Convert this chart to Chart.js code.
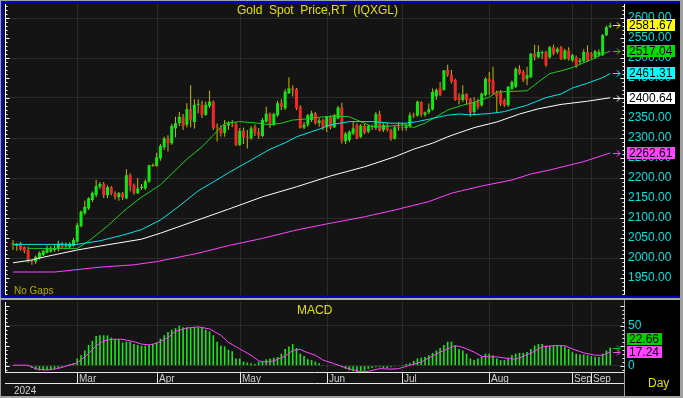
<!DOCTYPE html>
<html lang="pt-BR">
<head>
<meta charset="utf-8">
<title>Gold Spot Price</title>
<script src="https://cdn.jsdelivr.net/npm/chart.js@4.4.1/dist/chart.umd.min.js"></script>
<style>
  html, body { margin: 0; padding: 0; background: #000; }
  #painel { position: relative; width: 683px; height: 398px; overflow: hidden; background: #000; font-family: 'Liberation Sans', Arial, sans-serif; }
  canvas { position: absolute; left: 0; }
  #graficoPreco { top: 0; }
  #graficoMacd { top: 300px; }
  .linha { position: absolute; }
  .texto { position: absolute; white-space: pre; line-height: 1; }
  .etiqueta { position: absolute; left: 627px; height: 12px; line-height: 12px; font-size: 12px; padding: 0 3px 0 2px; color: #000; white-space: pre; }
</style>
</head>
<body>
<div id="painel">
  <canvas id="graficoPreco" width="683" height="296"></canvas>
  <canvas id="graficoMacd" width="683" height="98"></canvas>

  <!-- Molduras da janela -->
  <div class="linha" style="left:0;top:0;width:683px;height:1px;background:#a0a0a0"></div>
  <div class="linha" style="left:0;top:0;width:1px;height:398px;background:#a0a0a0"></div>
  <div class="linha" style="left:1px;top:1px;width:682px;height:2px;background:#0000c8"></div>
  <div class="linha" style="left:1px;top:1px;width:2px;height:297px;background:#0000c8"></div>
  <div class="linha" style="left:1px;top:296px;width:682px;height:2px;background:#0000c8"></div>
  <div class="linha" style="left:0;top:298px;width:683px;height:2px;background:#a8a8a8"></div>
  <div class="linha" style="left:0;top:396px;width:683px;height:2px;background:#a0a0a0"></div>
  <div class="linha" style="left:680px;top:0;width:3px;height:398px;background:#a0a0a0"></div>

  <div class="texto" style="left:237px;top:4px;font-size:12px;color:#e0e000">Gold  Spot  Price,RT  (IQXGL)</div>
  <div class="texto" style="left:14px;top:286px;font-size:10px;color:#b4ac00">No Gaps</div>
  <div class="texto" style="left:297px;top:304px;font-size:12px;color:#e0e000">MACD</div>
  <div class="texto" style="left:648px;top:377px;font-size:12px;color:#e0e000">Day</div>
  <div class="texto" style="left:14px;top:386px;font-size:10px;color:#d0d0d0">2024</div>
</div>

<script>
// ===== Dados (um candle por pregão, índice 0 = início de fev/2024) =====
const abertura = [
  2037,2030,2037,2028,2020,1993,1991,2000,2007,2013,
  2016,2020,2022,2037,2029,2027,2030,2041,2080,2112,
  2124,2145,2157,2178,2185,2157,2177,2162,2152,2162,
  2149,2207,2182,2162,2175,2174,2191,2230,2230,2249,
  2277,2299,2287,2324,2337,2353,2333,2372,2340,2383,
  2383,2358,2380,2391,2327,2324,2313,2331,2336,2335,
  2283,2318,2302,2300,2328,2315,2305,2341,2361,2333,
  2357,2387,2374,2412,2424,2422,2378,2326,2333,2345,
  2362,2337,2345,2327,2352,2327,2349,2376,2292,2295,
  2311,2332,2303,2330,2316,2328,2325,2360,2320,2333,
  2320,2298,2327,2326,2325,2330,2357,2356,2390,2358,
  2364,2371,2404,2424,2420,2470,2458,2445,2403,2395,
  2410,2398,2365,2394,2382,2407,2448,2444,2412,2415,
  2394,2382,2423,2428,2473,2465,2448,2452,2511,2502,
  2512,2515,2502,2527,2515,2527,2498,2519,2494,2502,
  2490,2492,2515,2511,2502,2507,2507,2557,2577
];
const maxima = [
  2045,2037,2040,2029,2028,1995,2006,2016,2020,2031,
  2030,2033,2043,2040,2039,2040,2050,2088,2119,2143,
  2152,2166,2195,2190,2190,2182,2180,2167,2165,2165,
  2222,2212,2186,2200,2185,2196,2233,2236,2263,2285,
  2303,2307,2335,2353,2365,2360,2387,2432,2397,2397,
  2393,2391,2418,2394,2336,2331,2345,2342,2345,2340,
  2325,2326,2320,2330,2334,2325,2350,2378,2364,2363,
  2393,2397,2422,2452,2432,2425,2382,2340,2360,2368,
  2365,2350,2348,2355,2356,2360,2380,2388,2315,2318,
  2341,2337,2335,2335,2333,2334,2365,2368,2337,2338,
  2323,2332,2340,2338,2335,2364,2363,2393,2392,2366,
  2386,2424,2424,2440,2470,2483,2470,2448,2412,2432,
  2412,2400,2402,2398,2414,2452,2465,2478,2419,2420,
  2398,2430,2444,2476,2482,2470,2478,2512,2533,2532,
  2519,2518,2530,2533,2527,2530,2523,2527,2510,2506,
  2500,2522,2532,2515,2520,2521,2560,2581,2588
];
const minima = [
  2020,2018,2018,2012,1988,1983,1985,1996,2005,2011,
  2014,2015,2017,2025,2023,2024,2028,2037,2076,2108,
  2120,2140,2152,2172,2150,2150,2157,2146,2143,2145,
  2147,2166,2158,2160,2170,2170,2188,2228,2228,2243,
  2270,2266,2283,2302,2330,2320,2326,2326,2324,2362,
  2350,2355,2375,2320,2291,2304,2303,2320,2327,2280,
  2280,2285,2274,2295,2305,2298,2302,2338,2325,2330,
  2353,2370,2370,2410,2404,2370,2324,2322,2328,2340,
  2334,2328,2320,2315,2322,2325,2346,2286,2285,2290,
  2307,2297,2300,2310,2312,2320,2320,2316,2315,2316,
  2293,2296,2318,2319,2318,2325,2350,2353,2353,2353,
  2360,2369,2395,2405,2418,2453,2436,2393,2384,2390,
  2385,2353,2357,2372,2378,2404,2407,2408,2365,2380,
  2378,2378,2420,2425,2458,2440,2432,2450,2494,2500,
  2498,2478,2498,2507,2510,2495,2495,2494,2490,2475,
  2484,2488,2490,2498,2498,2503,2505,2555,2575
];
const fechamento = [
  2032,2035,2022,2018,1991,1991,2003,2013,2018,2024,
  2022,2024,2036,2028,2032,2035,2045,2082,2116,2128,
  2149,2163,2180,2185,2157,2177,2162,2153,2162,2152,
  2207,2180,2163,2174,2178,2192,2232,2232,2252,2280,
  2299,2287,2330,2337,2353,2330,2372,2344,2383,2384,
  2358,2383,2391,2325,2324,2312,2332,2337,2334,2283,
  2318,2302,2300,2324,2312,2306,2345,2361,2333,2360,
  2387,2378,2416,2424,2420,2374,2325,2333,2357,2362,
  2337,2344,2327,2353,2326,2357,2376,2293,2311,2316,
  2324,2299,2331,2313,2330,2328,2360,2318,2333,2320,
  2298,2327,2326,2325,2330,2357,2356,2391,2359,2364,
  2372,2415,2420,2408,2469,2458,2441,2395,2395,2409,
  2395,2363,2390,2378,2411,2448,2440,2411,2404,2386,
  2382,2428,2440,2473,2461,2444,2457,2511,2502,2515,
  2514,2482,2527,2511,2523,2498,2519,2498,2507,2482,
  2494,2515,2494,2503,2517,2515,2557,2577,2581.67
];

// Médias móveis: pontos lidos (índice do candle, valor)
const mediaVerdeIdx = [4,17,20,25,30,34,39,46,50,53,56,60,65,68,71,74,77,81,85,89,93,95,98,101,104,106,109,112,115,119,122,126,128,136,139,142,145,148,151,154,156,158];
const mediaVerdeVal = [2024,2024,2042,2080,2123,2152,2183,2247,2278,2307,2337,2341,2337,2333,2337,2345,2347,2352,2355,2353,2337,2328,2328,2331,2333,2326,2337,2353,2370,2382,2389,2402,2415,2418,2440,2461,2468,2476,2488,2500,2510,2517.04];
const mediaCianoIdx = [0,17,23,29,34,39,44,49,53,57,63,68,72,75,81,84,89,95,100,104,107,111,115,118,121,126,130,136,141,145,148,152,156,158];
const mediaCianoVal = [2034,2034,2043,2057,2071,2095,2130,2168,2190,2213,2245,2272,2288,2303,2322,2333,2341,2341,2337,2337,2341,2349,2357,2360,2358,2361,2366,2382,2401,2410,2425,2437,2451,2461.31];
const mediaBrancaIdx = [0,5,8,17,25,34,39,48,57,66,75,84,93,101,106,111,115,118,122,128,134,139,145,152,158];
const mediaBrancaVal = [1988,1995,2002,2020,2033,2047,2062,2092,2122,2153,2178,2205,2228,2253,2272,2287,2303,2313,2326,2340,2360,2373,2384,2392,2400.64];
const mediaMagentaIdx = [0,11,23,32,38,49,57,66,75,84,93,101,110,116,124,132,137,142,151,158];
const mediaMagentaVal = [1965,1965,1977,1983,1991,2012,2031,2049,2070,2087,2103,2120,2141,2162,2180,2195,2210,2220,2241,2262.61];

// MACD (barras) e linha de sinal
const macdHistograma = [
  0,0,0,0,-1,-3,-5,-6,-6,-5,
  -5,-4,-3,-2,1,2,3,9,13,19,
  26,31,37,38,38,38,35,33,33,29,
  30,30,27,26,25,25,26,27,29,34,
  38,42,45,47,50,48,48,47,48,48,
  48,45,43,38,30,25,24,20,18,9,
  9,5,4,3,2,5,5,8,9,10,
  11,15,21,24,27,22,15,12,8,7,
  5,3,1,-1,0,-1,1,-2,-4,-6,
  -7,-8,-7,-6,-4,-3,-2,-2,-3,-3,
  -2,-1,0,1,2,3,6,9,10,11,
  13,16,19,22,26,30,30,25,21,19,
  15,9,7,9,11,15,15,13,9,7,
  7,10,13,15,16,16,17,21,25,27,
  27,25,25,25,26,25,24,21,17,15,
  14,14,13,12,11,11,15,19,22.66
];
const sinalIdx = [0,4,6,9,12,14,17,20,22,24,26,29,32,34,36,38,41,43,46,49,52,55,57,60,63,65,67,69,72,74,76,77,80,82,85,87,89,92,94,97,100,102,105,108,110,113,115,117,119,122,124,126,128,131,133,135,138,140,143,146,148,151,154,156,158];
const sinalVal = [0.6,0.6,-4,-5.5,-3.5,-0.6,3.5,15,25,31,33,33,30,27,26,28,35,43,47,48.5,46,38,29,21,13,6,4.5,6,12,19,20.5,18,13,7,2.5,-1,-4,-7.5,-7,-3.7,-4.3,-3.7,0.5,4.6,9.6,17,21,25,23,17,11.7,11,11,9,8,11.7,18,23.6,25,25,21,16,13,13,17.24];

// Eixo de tempo e escalas
const rotuloMesIdx = [17, 38, 60, 83, 103, 126, 148, 153];
const rotuloMes = ['Mar', 'Apr', 'May', 'Jun', 'Jul', 'Aug', 'Sep', 'Sep'];
const precoTicks = [1950, 2000, 2050, 2100, 2150, 2200, 2250, 2300, 2350, 2400, 2450, 2500, 2550, 2600];
const macdTicks = [0, 50];

// ===== Aparência =====
const COR_FUNDO = '#141414';
const COR_GRADE = '#2b2b2b';
const COR_ALTA = '#14e614';
const COR_BAIXA = '#f02828';
const COR_PAVIO = '#c8b800';
const COR_VERDE = '#22cc22';
const COR_CIANO = '#00e6e6';
const COR_BRANCA = '#ffffff';
const COR_MAGENTA = '#ff44ff';
const COR_ROTULO = '#00e0e0';
const X_MIN = -1.85;
const X_MAX = 161.65;
const FONTE = 'Liberation Sans';

const painel = document.getElementById('painel');
const indices = fechamento.map((_, i) => i);

/**
 * @description Monta uma série {x, y} a partir de índices e valores lidos.
 */
function serie(idx, val) {
    return idx.map((x, k) => ({ x: x, y: val[k] }));
}

// Pinta o fundo da área útil (a coluna de rótulos fica preta)
const fundoPlugin = {
    id: 'fundo',
    beforeDraw(chart) {
        const { ctx, height, chartArea } = chart;
        ctx.save();
        ctx.fillStyle = COR_FUNDO;
        ctx.fillRect(0, 0, chartArea.right, height);
        ctx.restore();
    }
};

// Linhas verticais nas viradas de mês
const gradeMesesPlugin = {
    id: 'gradeMeses',
    beforeDatasetsDraw(chart) {
        const { ctx, chartArea: a, scales: { x } } = chart;
        ctx.save();
        ctx.strokeStyle = COR_GRADE;
        ctx.lineWidth = 1;
        rotuloMesIdx.forEach(i => {
            const px = Math.round(x.getPixelForValue(i)) + 0.5;
            ctx.beginPath();
            ctx.moveTo(px, a.top);
            ctx.lineTo(px, a.bottom);
            ctx.stroke();
        });
        ctx.restore();
    }
};

/**
 * @description Desenha uma régua vertical com marcas (lado = 1 para direita, -1 para esquerda).
 */
function desenharRegua(chart, xLinha, passo, passoMaior, lado, corLinha, topo, base) {
    const { ctx, chartArea: a, scales: { y } } = chart;
    const px = xLinha + 0.5;
    ctx.save();
    ctx.lineWidth = 1;
    ctx.strokeStyle = corLinha;
    ctx.beginPath();
    ctx.moveTo(px, topo !== undefined ? topo : a.top);
    ctx.lineTo(px, base !== undefined ? base : a.bottom);
    ctx.stroke();
    ctx.strokeStyle = '#ffffff';
    for (let v = Math.ceil(y.min / passo) * passo; v <= y.max; v += passo) {
        const py = Math.round(y.getPixelForValue(v)) + 0.5;
        const tamanho = (Math.round(v) % passoMaior === 0) ? 4 : 2;
        ctx.beginPath();
        ctx.moveTo(px, py);
        ctx.lineTo(px + lado * tamanho, py);
        ctx.stroke();
    }
    ctx.restore();
}

function desenharSeta(ctx, y, cor) {
    const py = Math.round(y) + 0.5;
    ctx.save();
    ctx.strokeStyle = cor;
    ctx.lineWidth = 1;
    ctx.beginPath();
    ctx.moveTo(613, py);
    ctx.lineTo(620, py);
    ctx.moveTo(617, py - 3);
    ctx.lineTo(620, py);
    ctx.lineTo(617, py + 3);
    ctx.stroke();
    ctx.restore();
}

// Últimos valores de cada série do painel de preço
const ultimosPreco = [
    { valor: fechamento[fechamento.length - 1], cor: '#ffff00' },
    { valor: mediaVerdeVal[mediaVerdeVal.length - 1], cor: '#00dd00' },
    { valor: mediaCianoVal[mediaCianoVal.length - 1], cor: '#00ffff' },
    { valor: mediaBrancaVal[mediaBrancaVal.length - 1], cor: '#ffffff' },
    { valor: mediaMagentaVal[mediaMagentaVal.length - 1], cor: COR_MAGENTA }
];
const ultimosMacd = [
    { valor: macdHistograma[macdHistograma.length - 1], cor: '#00d000' },
    { valor: sinalVal[sinalVal.length - 1], cor: COR_MAGENTA }
];

const eixosPrecoPlugin = {
    id: 'eixosPreco',
    afterDraw(chart) {
        desenharRegua(chart, 5, 10, 50, 1, '#ffffff');
        desenharRegua(chart, 624, 10, 50, -1, '#ffffff');
        ultimosPreco.forEach(u => desenharSeta(chart.ctx, chart.scales.y.getPixelForValue(u.valor), u.cor));
    }
};

const eixosMacdPlugin = {
    id: 'eixosMacd',
    afterDraw(chart) {
        const { ctx, chartArea: a, scales: { x } } = chart;
        desenharRegua(chart, 5, 5, 25, 1, '#ffffff');
        desenharRegua(chart, 624, 5, 25, -1, '#a0a0a0', 0, chart.height);
        ultimosMacd.forEach(u => desenharSeta(ctx, chart.scales.y.getPixelForValue(u.valor), u.cor));

        // Régua do tempo: duas linhas e separadores de mês
        ctx.save();
        ctx.strokeStyle = '#e8e8e8';
        ctx.lineWidth = 1;
        const y1 = a.bottom + 0.5;
        const y2 = a.bottom + 11.5;
        ctx.beginPath();
        ctx.moveTo(5, y1); ctx.lineTo(624, y1);
        ctx.moveTo(5, y2); ctx.lineTo(624, y2);
        rotuloMesIdx.forEach(i => {
            const px = Math.round(x.getPixelForValue(i)) + 0.5;
            ctx.moveTo(px, y1);
            ctx.lineTo(px, y2);
        });
        ctx.stroke();
        ctx.restore();
    }
};

function eixoYDireita(min, max, ticks, formato) {
    return {
        position: 'right',
        min: min,
        max: max,
        bounds: 'data',
        afterFit: s => { s.width = 59; s.paddingTop = 0; s.paddingBottom = 0; },
        afterBuildTicks: s => { s.ticks = ticks.map(v => ({ value: v })); },
        border: { display: false },
        grid: { drawTicks: false, color: formato.corGrade },
        ticks: {
            color: COR_ROTULO,
            padding: 4,
            autoSkip: false,
            font: { family: FONTE, size: 12 },
            callback: formato.rotulo
        }
    };
}

// ===== Painel de preço (candles + médias) =====
const paviosDados = indices.map(i => ({ x: i, y: [minima[i], maxima[i]] }));
const corposAlta = indices.filter(i => fechamento[i] >= abertura[i]).map(i => ({ x: i, y: [abertura[i], fechamento[i]] }));
const corposBaixa = indices.filter(i => fechamento[i] < abertura[i]).map(i => ({ x: i, y: [abertura[i], fechamento[i]] }));

function linhaMedia(dados, cor) {
    return { type: 'line', data: dados, borderColor: cor, borderWidth: 1, pointRadius: 0, tension: 0, order: 0 };
}

const graficoPrecoInstance = new Chart(document.getElementById('graficoPreco').getContext('2d'), {
    type: 'bar',
    data: {
        datasets: [
            linhaMedia(serie(mediaMagentaIdx, mediaMagentaVal), COR_MAGENTA),
            linhaMedia(serie(mediaBrancaIdx, mediaBrancaVal), COR_BRANCA),
            linhaMedia(serie(mediaCianoIdx, mediaCianoVal), COR_CIANO),
            linhaMedia(serie(mediaVerdeIdx, mediaVerdeVal), COR_VERDE),
            { data: corposAlta, backgroundColor: COR_ALTA, barThickness: 3, grouped: false, minBarLength: 1, inflateAmount: 0, order: 1 },
            { data: corposBaixa, backgroundColor: COR_BAIXA, barThickness: 3, grouped: false, minBarLength: 1, inflateAmount: 0, order: 1 },
            { data: paviosDados, backgroundColor: COR_PAVIO, barThickness: 1, grouped: false, inflateAmount: 0, order: 2 }
        ]
    },
    options: {
        responsive: false,
        animation: false,
        layout: { padding: { left: 6, top: 4, right: 0, bottom: 1 } },
        plugins: { legend: { display: false }, tooltip: { enabled: false } },
        scales: {
            x: { type: 'linear', min: X_MIN, max: X_MAX, offset: false, display: false },
            y: eixoYDireita(1907.5, 2635, precoTicks, {
                corGrade: c => (c.tick && c.tick.value % 100 === 0) ? COR_GRADE : 'rgba(0,0,0,0)',
                rotulo: v => Number(v).toFixed(2)
            })
        }
    },
    plugins: [fundoPlugin, gradeMesesPlugin, eixosPrecoPlugin]
});

// ===== Painel MACD =====
const graficoMacdInstance = new Chart(document.getElementById('graficoMacd').getContext('2d'), {
    type: 'bar',
    data: {
        datasets: [
            { type: 'line', data: serie(sinalIdx, sinalVal), borderColor: COR_MAGENTA, borderWidth: 1, pointRadius: 0, tension: 0, order: 0 },
            { data: indices.map(i => ({ x: i, y: macdHistograma[i] })), backgroundColor: '#1ee61e', barThickness: 1.6, grouped: false, inflateAmount: 0, order: 1 }
        ]
    },
    options: {
        responsive: false,
        animation: false,
        layout: { padding: { left: 6, top: 2, right: 0, bottom: 26 } },
        plugins: { legend: { display: false }, tooltip: { enabled: false } },
        scales: {
            x: { type: 'linear', min: X_MIN, max: X_MAX, offset: false, display: false },
            y: eixoYDireita(-7.9, 79.6, macdTicks, {
                corGrade: COR_GRADE,
                rotulo: v => String(v)
            })
        }
    },
    plugins: [fundoPlugin, gradeMesesPlugin, eixosMacdPlugin]
});

// ===== Textos posicionados pelas escalas =====
function criarEtiqueta(texto, centroY, fundo) {
    const el = document.createElement('div');
    el.className = 'etiqueta';
    el.style.top = Math.round(centroY - 6) + 'px';
    el.style.background = fundo;
    el.textContent = texto;
    painel.appendChild(el);
}

function criarTexto(texto, esquerda, topo, tamanho, cor) {
    const el = document.createElement('div');
    el.className = 'texto';
    el.style.left = esquerda + 'px';
    el.style.top = topo + 'px';
    el.style.fontSize = tamanho + 'px';
    el.style.color = cor;
    el.textContent = texto;
    painel.appendChild(el);
}

ultimosPreco.forEach(u => {
    criarEtiqueta(u.valor.toFixed(2), graficoPrecoInstance.scales.y.getPixelForValue(u.valor), u.cor);
});

// No MACD as etiquetas não podem se sobrepor: a de cima sobe
const TOPO_MACD = 300;
const posicoesMacd = ultimosMacd
    .map(u => ({ ...u, y: TOPO_MACD + graficoMacdInstance.scales.y.getPixelForValue(u.valor) }))
    .sort((a, b) => b.y - a.y);
for (let k = 1; k < posicoesMacd.length; k++) {
    const limite = posicoesMacd[k - 1].y - 13;
    if (posicoesMacd[k].y > limite) posicoesMacd[k].y = limite;
}
posicoesMacd.forEach(p => criarEtiqueta(p.valor.toFixed(2), p.y, p.cor));

const escalaTempo = graficoMacdInstance.scales.x;
rotuloMesIdx.forEach((i, k) => {
    criarTexto(rotuloMes[k], Math.round(escalaTempo.getPixelForValue(i)) + 2, TOPO_MACD + 74, 10, '#d0d0d0');
});
</script>
</body>
</html>
